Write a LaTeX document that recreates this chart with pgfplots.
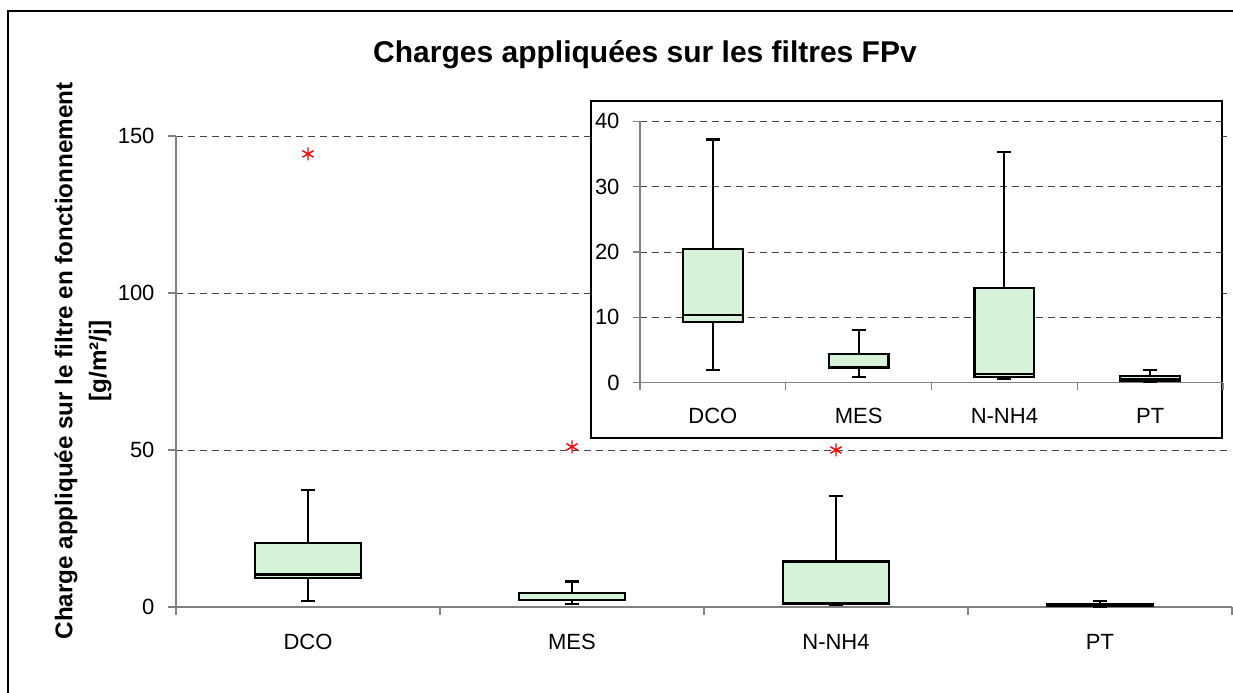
\documentclass[border=0pt]{standalone}
\usepackage{pgfplots}
\pgfplotsset{compat=1.18}
\usepgfplotslibrary{statistics}
\usepackage{fontspec}
\setmainfont{Liberation Sans}
\definecolor{boxfill}{RGB}{214,242,216}
\definecolor{axgray}{RGB}{128,128,128}
\definecolor{gridgray}{RGB}{70,70,70}
\pgfplotsset{
  boxcommon/.style={draw=black, fill=boxfill, line width=2.2bp, solid,
    mark=asterisk, mark size=6.5bp, mark options={red, line width=1.4bp, fill=none, solid}},
  axcommon/.style={
    scale only axis, xmin=0, xmax=4,
    axis x line=bottom, axis y line=left,
    axis line style={axgray, line width=1.2bp, -},
    xtick={0,1,2,3,4}, xticklabels={},
    extra x ticks={0.5,1.5,2.5,3.5}, extra x tick labels={DCO,MES,N-NH4,PT},
    ymajorgrids, grid style={gridgray, dash pattern=on 7bp off 5bp, line width=0.8bp},
    tick align=outside, tick style={axgray, line width=1.2bp},
    tick label style={font=\fontsize{22bp}{22bp}\selectfont},
    yticklabel style={xshift=-10bp},
    /pgf/number format/assume math mode=true,
    clip=false, boxplot/draw direction=y,
  }
}
\begin{document}
\begin{tikzpicture}
\useasboundingbox (0bp,0bp) rectangle (1233bp,693bp);
\draw[line width=1.2bp] (8bp,-5bp) -- (8bp,682bp) -- (1240bp,682bp);
\node[font=\bfseries\fontsize{30bp}{30bp}\selectfont, anchor=base] at (645bp,630bp) {Charges appliquées sur les filtres FPv};
\node[rotate=90, align=center, font=\bfseries\fontsize{24.2bp}{34bp}\selectfont] at (83bp,332bp) {Charge appliquée sur le filtre en fonctionnement\\{}[g/m²/j]};

\begin{axis}[axcommon,
  at={(176bp,86bp)}, anchor=origin, width=1056bp, height=471bp,
  ymin=0, ymax=150, ytick={0,50,100,150},
  major tick length=8bp,
  extra x tick style={major tick length=0pt, xticklabel style={yshift=-24bp}},
]
\addplot[boxcommon, boxplot prepared={draw position=0.5, lower whisker=1.94, lower quartile=9.24, median=10.36, upper quartile=20.4, upper whisker=37.2, box extend=0.4, whisker extend=0.055}] coordinates {(0.5,144.3)};
\addplot[boxcommon, boxplot prepared={draw position=1.5, lower whisker=0.87, lower quartile=2.3, median=2.35, upper quartile=4.44, upper whisker=8.1, box extend=0.4, whisker extend=0.055}] coordinates {(1.5,51.0)};
\addplot[boxcommon, boxplot prepared={draw position=2.5, lower whisker=0.57, lower quartile=0.92, median=1.38, upper quartile=14.5, upper whisker=35.3, box extend=0.4, whisker extend=0.055}] coordinates {(2.5,50.0)};
\addplot[boxcommon, boxplot prepared={draw position=3.5, lower whisker=0.15, lower quartile=0.26, median=0.5, upper quartile=1.07, upper whisker=1.94, box extend=0.4, whisker extend=0.055}] coordinates {};
\end{axis}

\filldraw[fill=white, draw=black, line width=1.2bp] (591bp,255bp) rectangle (1222bp,592bp);

\begin{axis}[axcommon,
  at={(640bp,310.3bp)}, anchor=origin, width=583bp, height=261.4bp,
  ymin=0, ymax=40, ytick={0,10,20,30,40},
  major tick length=7bp,
  extra x tick style={major tick length=0pt, xticklabel style={yshift=-22bp}},
]
\addplot[boxcommon, boxplot prepared={draw position=0.5, lower whisker=1.94, lower quartile=9.24, median=10.36, upper quartile=20.4, upper whisker=37.2, box extend=0.41, whisker extend=0.095}] coordinates {};
\addplot[boxcommon, boxplot prepared={draw position=1.5, lower whisker=0.87, lower quartile=2.3, median=2.35, upper quartile=4.44, upper whisker=8.1, box extend=0.41, whisker extend=0.095}] coordinates {};
\addplot[boxcommon, boxplot prepared={draw position=2.5, lower whisker=0.57, lower quartile=0.92, median=1.38, upper quartile=14.5, upper whisker=35.3, box extend=0.41, whisker extend=0.095}] coordinates {};
\addplot[boxcommon, boxplot prepared={draw position=3.5, lower whisker=0.15, lower quartile=0.26, median=0.5, upper quartile=1.07, upper whisker=1.94, box extend=0.41, whisker extend=0.095}] coordinates {};
\end{axis}
\end{tikzpicture}
\end{document}
